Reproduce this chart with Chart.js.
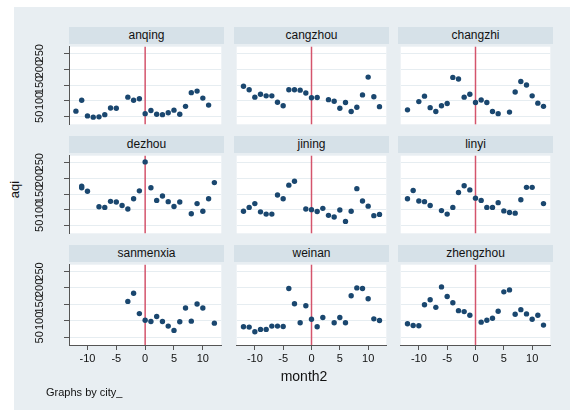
<!DOCTYPE html>
<html>
<head>
<meta charset="utf-8">
<script src="https://cdn.jsdelivr.net/npm/chart.js@4/dist/chart.umd.min.js"></script>
<style>
body{margin:0;background:#fff;width:570px;height:410px;overflow:hidden;position:relative;font-family:"Liberation Sans",Arial,sans-serif;color:#111;}
#bg{position:absolute;left:14px;top:7px;width:556px;height:403px;background:#e8eef2;}
.ttl{position:absolute;background:#d6e1e8;text-align:center;font-size:12px;line-height:17px;height:17px;}
.box{position:absolute;}
.lbl{position:absolute;white-space:nowrap;}
</style>
</head>
<body>
<div id="bg"></div>
<div id="panels"></div>
<div class="lbl" style="left:2px;top:182px;width:24px;text-align:center;font-size:13px;transform:rotate(-90deg);">aqi</div>
<div class="lbl" style="left:254px;top:368px;width:100px;text-align:center;font-size:14px;">month2</div>
<div class="lbl" style="left:46px;top:386px;font-size:11px;">Graphs by city_</div>
<script>
// months -12..12, null = no observation
const months = [-12,-11,-10,-9,-8,-7,-6,-5,-4,-3,-2,-1,0,1,2,3,4,5,6,7,8,9,10,11,12];
const cities = ["anqing","cangzhou","changzhi","dezhou","jining","linyi","sanmenxia","weinan","zhengzhou"];
const xTicks = [-10,-5,0,5,10];
const yTicks = [50,100,150,200,250];

const anqing    = [68,102,53,49,50,57,78,77,null,112,102,107,60,70,58,57,63,71,58,83,126,131,109,87,null];
const cangzhou  = [146,135,112,121,116,116,96,85,135,135,134,125,110,111,null,104,99,77,95,67,80,119,175,113,82];
const changzhi  = [72,null,98,115,79,67,85,92,174,169,112,121,95,103,95,67,60,null,65,128,161,150,116,93,83];
const dezhou    = [null,175,159,null,110,108,127,125,114,103,135,160,251,170,130,144,126,111,125,null,88,120,96,135,186];
const dezhou2   = [null,170,null,null,null,null,null,null,null,null,null,null,null,null,null,null,null,null,null,null,null,null,null,null,null]; // second obs at -11
const jining    = [96,108,120,94,87,87,147,135,178,190,null,103,101,95,105,83,78,100,64,96,167,128,112,82,86];
const linyi     = [135,161,128,126,114,null,98,87,108,155,176,163,137,130,108,108,123,97,92,90,132,171,171,null,120];
const sanmenxia = [null,null,null,null,null,null,null,null,null,159,184,122,102,98,113,98,84,71,97,139,99,151,139,null,93];
const weinan    = [82,81,67,74,74,84,84,83,198,152,94,146,105,82,110,null,94,110,94,176,200,198,167,106,101];
const zhengzhou = [91,86,85,149,164,141,203,174,155,131,128,117,null,96,102,108,129,188,194,120,134,121,105,117,87];

const series = [anqing,cangzhou,changzhi,[...dezhou,...dezhou2],jining,linyi,sanmenxia,weinan,zhengzhou];

const colLeft = [69,234,398];
const rowTop = [44,153,262];
const plotW = 155, plotH = 83, axW = 42, axH = 24;

const toPoints = vals => vals.map((v,i)=>({x: months[i % months.length], y: v})).filter(p=>p.y!==null);

const plotBg = {
  id:'plotBg',
  beforeDraw(chart){
    const {ctx, chartArea:a} = chart;
    ctx.save(); ctx.fillStyle='#ffffff'; ctx.fillRect(a.left,a.top,a.right-a.left,a.bottom-a.top); ctx.restore();
  }
};
const zeroLine = {
  id:'zeroLine',
  beforeDatasetsDraw(chart){
    const {ctx, chartArea:a, scales} = chart;
    const px = scales.x.getPixelForValue(0);
    ctx.save(); ctx.strokeStyle='#d4546c'; ctx.lineWidth=1.5;
    ctx.beginPath(); ctx.moveTo(px,a.top); ctx.lineTo(px,a.bottom); ctx.stroke(); ctx.restore();
  }
};

const holder = document.getElementById('panels');
cities.forEach((name,k)=>{
  const r = Math.floor(k/3), c = k%3;
  const leftCol = c===0, bottom = r===2;
  const t = document.createElement('div');
  t.className='ttl'; t.textContent=name;
  t.style.left=colLeft[c]+'px'; t.style.top=(rowTop[r]-17)+'px'; t.style.width=plotW+'px';
  holder.appendChild(t);

  const w = plotW + (leftCol?axW:0), h = plotH + (bottom?axH:0);
  const box = document.createElement('div');
  box.className='box';
  box.style.left=(colLeft[c]-(leftCol?axW:0))+'px'; box.style.top=rowTop[r]+'px';
  box.style.width=w+'px'; box.style.height=h+'px';
  const cv = document.createElement('canvas');
  cv.width=w; cv.height=h; cv.style.width=w+'px'; cv.style.height=h+'px';
  box.appendChild(cv); holder.appendChild(box);

  new Chart(cv.getContext('2d'), {
    type:'scatter',
    data:{datasets:[{data:toPoints(series[k]), backgroundColor:'#1a476f', borderWidth:0, pointRadius:2.7, pointHoverRadius:2.7}]},
    options:{
      responsive:false, animation:false, events:[],
      layout:{padding:0},
      plugins:{legend:{display:false}, tooltip:{enabled:false}},
      scales:{
        x:{
          type:'linear', min:-13.2, max:13.2,
          afterBuildTicks: s=>{ s.ticks = xTicks.map(v=>({value:v})); },
          afterFit: s=>{ s.height = bottom?axH:0; s.paddingLeft=0; s.paddingRight=0; },
          grid:{display:bottom, drawOnChartArea:false, drawTicks:true, tickLength:5, tickColor:'#555'},
          border:{display:bottom, color:'#555', width:1},
          ticks:{display:bottom, autoSkip:false, color:'#111', font:{family:'"Liberation Sans", Arial', size:11}, padding:2, maxRotation:0, minRotation:0}
        },
        y:{
          type:'linear', min:26.6, max:270.5,
          afterBuildTicks: s=>{ s.ticks = yTicks.map(v=>({value:v})); },
          afterFit: s=>{ s.width = leftCol?axW:0; s.paddingTop=0; s.paddingBottom=0; },
          grid:{display:true, color:'#e6edf1', lineWidth:1, drawTicks:leftCol, tickLength:5, tickColor:'#555'},
          border:{display:leftCol, color:'#555', width:1},
          ticks:{display:leftCol, autoSkip:false, color:'#111', font:{family:'"Liberation Sans", Arial', size:11}, padding:15, minRotation:90, maxRotation:90, crossAlign:'center'}
        }
      }
    },
    plugins:[plotBg, zeroLine]
  });
});
</script>
</body>
</html>
